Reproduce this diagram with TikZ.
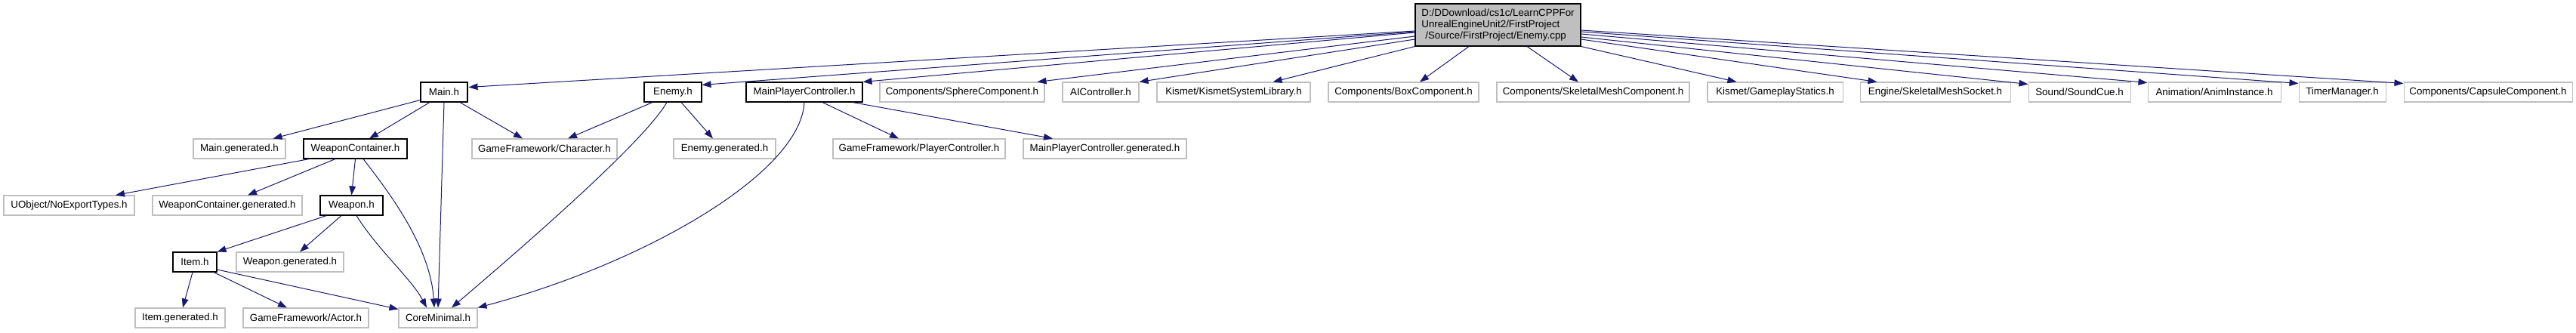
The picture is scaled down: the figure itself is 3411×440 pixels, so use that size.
\documentclass[tikz,border=0pt]{standalone}
\usepackage{fontspec}
\setmainfont{Liberation Sans}
\usetikzlibrary{arrows.meta,calc}
\definecolor{edgeblue}{HTML}{191970}
\definecolor{leafgray}{HTML}{BFBFBF}
\begin{document}
\begin{tikzpicture}[x=0.75pt,y=-0.75pt,
  box/.style={rectangle, inner sep=0pt, minimum height=19.5pt, font=\fontsize{10}{12}\selectfont, text=black, line width=0.8pt},
  leaf/.style={box, draw=leafgray, fill=white},
  inc/.style={box, draw=black, fill=white},
  w/.style={minimum width=#1*0.75pt},
  edge/.style={draw=edgeblue, line width=0.75pt, -{Triangle[length=9pt,width=6.5pt]}}]
\useasboundingbox (0,0) rectangle (3411,440);
% root
\node[box, draw=black, fill=leafgray, w=219, minimum height=42pt, align=left, font=\fontsize{10}{11.25}\selectfont] (root) at (1983.5,33)
  {D:/DDownload/cs1c/LearnCPPFor\\UnrealEngineUnit2/FirstProject\\\hspace*{3.75pt}/Source/FirstProject/Enemy.cpp};
% row 1
\node[inc, w=62] (main) at (588,122) {Main.h};
\node[inc, w=76] (enemy) at (891,122) {Enemy.h};
\node[inc, w=154] (mpc) at (1065,122) {MainPlayerController.h};
\node[leaf, w=218] (sphere) at (1274,122) {Components/SphereComponent.h};
\node[leaf, w=101] (ai) at (1457.5,122) {AIController.h};
\node[leaf, w=203] (ksl) at (1633.5,122) {Kismet/KismetSystemLibrary.h};
\node[leaf, w=199] (boxc) at (1858.5,122) {Components/BoxComponent.h};
\node[leaf, w=255] (skel) at (2109.5,122) {Components/SkeletalMeshComponent.h};
\node[leaf, w=179] (gs) at (2350.5,122) {Kismet/GameplayStatics.h};
\node[leaf, w=199] (sms) at (2562.5,122) {Engine/SkeletalMeshSocket.h};
\node[leaf, w=135] (sound) at (2753.5,122) {Sound/SoundCue.h};
\node[leaf, w=176] (anim) at (2932,122) {Animation/AnimInstance.h};
\node[leaf, w=115] (timer) at (3101.5,122) {TimerManager.h};
\node[leaf, w=223] (capsule) at (3294.5,122) {Components/CapsuleComponent.h};
% row 2
\node[leaf, w=122] (maingen) at (317,197) {Main.generated.h};
\node[inc, w=137] (wc) at (470.5,197) {WeaponContainer.h};
\node[leaf, w=192] (character) at (721,197) {GameFramework/Character.h};
\node[leaf, w=135] (enemygen) at (959.5,197) {Enemy.generated.h};
\node[leaf, w=228] (gfpc) at (1217,197) {GameFramework/PlayerController.h};
\node[leaf, w=216] (mpcgen) at (1463,197) {MainPlayerController.generated.h};
% row 3
\node[leaf, w=173] (uobject) at (91.5,272) {UObject/NoExportTypes.h};
\node[leaf, w=198] (wcgen) at (301,272) {WeaponContainer.generated.h};
\node[inc, w=83] (weapon) at (465.5,272) {Weapon.h};
% row 4
\node[inc, w=58] (item) at (258,347) {Item.h};
\node[leaf, w=142] (weapongen) at (384,347) {Weapon.generated.h};
% row 5
\node[leaf, w=119] (itemgen) at (238.5,421) {Item.generated.h};
\node[leaf, w=166] (actor) at (405,421) {GameFramework/Actor.h};
\node[leaf, w=104] (core) at (580,421) {CoreMinimal.h};
% root edges
\draw[edge] ($(root.west)+(0,8)$) -- ($(main.north east)+(1,7)$);
\draw[edge] ($(root.west)+(0,9)$) -- ($(enemy.north east)+(0,4)$);
\draw[edge] ($(root.west)+(0,10)$) -- (mpc.north east);
\draw[edge] ($(root.west)+(0,15)$) -- ($(sphere.north east)+(-10,0)$);
\draw[edge] ($(root.west)+(0,19)$) -- (ai.north east);
\draw[edge] (root.south west) -- ($(ksl.north east)+(-50,0)$);
\draw[edge] ($(root.south)+(-38.5,0)$) -- ($(boxc.north)+(21.5,0)$);
\draw[edge] ($(root.south)+(38.5,0)$) -- ($(skel.north)+(-19.5,0)$);
\draw[edge] (root.south east) -- ($(gs.north west)+(39,0)$);
\draw[edge] ($(root.east)+(0,19)$) -- ($(sms.north west)+(23,0)$);
\draw[edge] ($(root.east)+(0,16)$) -- ($(sound.north west)+(0,3)$);
\draw[edge] ($(root.east)+(0,12)$) -- ($(anim.north west)+(0,1)$);
\draw[edge] ($(root.east)+(0,9)$) -- ($(timer.north west)+(0,2)$);
\draw[edge] ($(root.east)+(0,7)$) -- ($(capsule.north west)+(0,2)$);
% Main.h
\draw[edge] ($(main.south west)+(0,-3)$) -- ($(maingen.north east)+(-17,0)$);
\draw[edge] ($(main.south)+(-19,0)$) -- ($(wc.north)+(18.5,0)$);
\draw[edge] ($(main.south)+(21,0)$) -- ($(character.north)+(-29,0)$);
\draw[edge] (main.south) -- (core.north);
% Enemy.h
\draw[edge] ($(enemy.south)+(-27,0)$) -- ($(character.north)+(31,0)$);
\draw[edge] ($(enemy.south)+(11,0)$) -- ($(enemygen.north)+(-15.5,0)$);
\draw[edge] ($(enemy.south)+(-8,0)$) .. controls ($(enemy.south)+(-31,40)$) and ($(core.north)+(180,-138)$) .. ($(core.north)+(18,0)$);
% MainPlayerController.h
\draw[edge] ($(mpc.south)+(24,0)$) -- ($(gfpc.north)+(-27,0)$);
\draw[edge] ($(mpc.south)+(64,0)$) -- ($(mpcgen.north)+(-69,0)$);
\draw[edge] (mpc.south) .. controls ($(mpc.south)+(-5,95)$) and ($(core.north east)+(218,-58)$) .. (core.north east);
% WeaponContainer.h
\draw[edge] ($(wc.south west)+(8,0)$) -- ($(uobject.north)+(61.5,0)$);
\draw[edge] ($(wc.south)+(-26.5,0)$) -- ($(wcgen.north)+(27,0)$);
\draw[edge] (wc.south) -- (weapon.north);
\draw[edge] ($(wc.south)+(10.5,0)$) .. controls ($(wc.south)+(49.5,50)$) and ($(core.north)+(-10,-78)$) .. ($(core.north)+(-5,0)$);
% Weapon.h
\draw[edge] ($(weapon.south west)+(9,0)$) -- (item.north east);
\draw[edge] ($(weapon.south)+(-13.5,0)$) -- ($(weapongen.north)+(13,0)$);
\draw[edge] ($(weapon.south)+(6.5,0)$) .. controls ($(weapon.south)+(34.5,45)$) and ($(core.north)+(-35,-38)$) .. ($(core.north)+(-15,0)$);
% Item.h
\draw[edge] ($(item.south)+(-3,0)$) -- ($(itemgen.north)+(3.5,0)$);
\draw[edge] ($(item.south)+(25,0)$) -- ($(actor.north)+(-25,0)$);
\draw[edge] ($(item.east)+(0,10)$) -- ($(core.north west)+(0,2)$);
\end{tikzpicture}
\end{document}
